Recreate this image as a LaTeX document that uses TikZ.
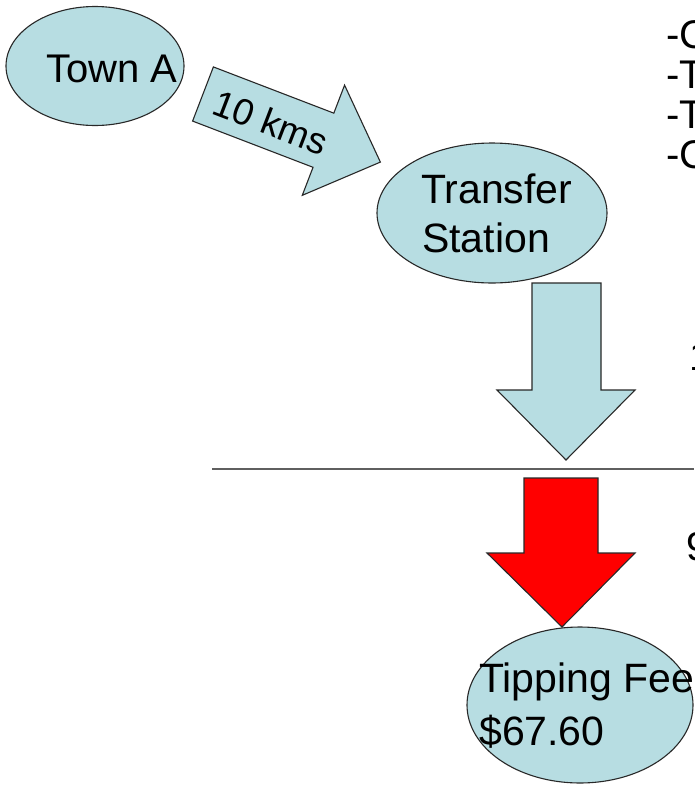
\documentclass[tikz,border=0pt]{standalone}
\usepackage{fontspec}
\setmainfont{Liberation Sans}
\usetikzlibrary{shapes.geometric}
\definecolor{lblue}{RGB}{183,221,226}
\definecolor{edgec}{RGB}{40,40,40}
\definecolor{linec}{RGB}{95,95,95}
\tikzset{
  bubble/.style={ellipse, draw=edgec, fill=lblue, line width=1.1pt, inner sep=0pt},
  blockarrow/.style={draw=edgec, line width=1.1pt, line join=miter},
  lbl/.style={inner sep=0pt, anchor=base west, text=black},
  bigtxt/.style={font=\fontsize{40}{48}\selectfont},
}
\begin{document}
\begin{tikzpicture}[x=1pt,y=-1pt]
\useasboundingbox (0,0) rectangle (694,785);
\clip (0,0) rectangle (694,785);
\fill[white] (0,0) rectangle (694,785);

% ellipses
\node[bubble, minimum width=178pt, minimum height=119pt] (townA) at (95,66) {};
\node[bubble, minimum width=230pt, minimum height=140pt] (transfer) at (492,213) {};
\node[bubble, minimum width=226pt, minimum height=156pt] (tipping) at (580,705) {};

% texts in ellipses
\node[lbl, bigtxt] (townAtxt) at (46,82) {Town A};
\node[lbl, font=\fontsize{41}{48}\selectfont] (tstxt1) at (421,203) {Transfer};
\node[lbl, font=\fontsize{41}{48}\selectfont] (tstxt2) at (422,252) {Station};
\node[lbl, font=\fontsize{41}{48}\selectfont] (tiptxt1) at (479,692) {Tipping Fee};
\node[lbl, font=\fontsize{41}{48}\selectfont] (tiptxt2) at (479,745) {\$67.60};

% 10 kms arrow
\begin{scope}[shift={(203,94)}, rotate=-21]
  \draw[blockarrow, fill=lblue] (0,-29) -- (129,-29) -- (129,-59) -- (190,0)
     -- (129,59) -- (129,29) -- (0,29) -- cycle;
  \node[inner sep=0pt, transform shape, font=\fontsize{37}{42}\selectfont] (kms) at (73,2) {10 kms};
\end{scope}

% down arrow (light blue)
\draw[blockarrow, fill=lblue] (532,283) -- (601,283) -- (601,390) -- (635,390)
   -- (566,460) -- (497,390) -- (532,390) -- cycle;

% separator line
\draw[linec, line width=1.6pt] (212,469) -- (694,469);

% red arrow
\draw[blockarrow, fill=red] (524,478) -- (598,478) -- (598,553) -- (635,553)
   -- (562,627) -- (487,553) -- (524,553) -- cycle;

% right side (cut-off) texts
\node[lbl, bigtxt] (r1) at (666,48) {-C};
\node[lbl, bigtxt] (r2) at (666,88) {-T};
\node[lbl, bigtxt] (r3) at (666,128) {-T};
\node[lbl, bigtxt] (r4) at (666,168) {-C};
\node[lbl, bigtxt] (r5) at (689,370) {1};
\node[lbl, bigtxt] (r6) at (686,560) {9};
\end{tikzpicture}
\end{document}
